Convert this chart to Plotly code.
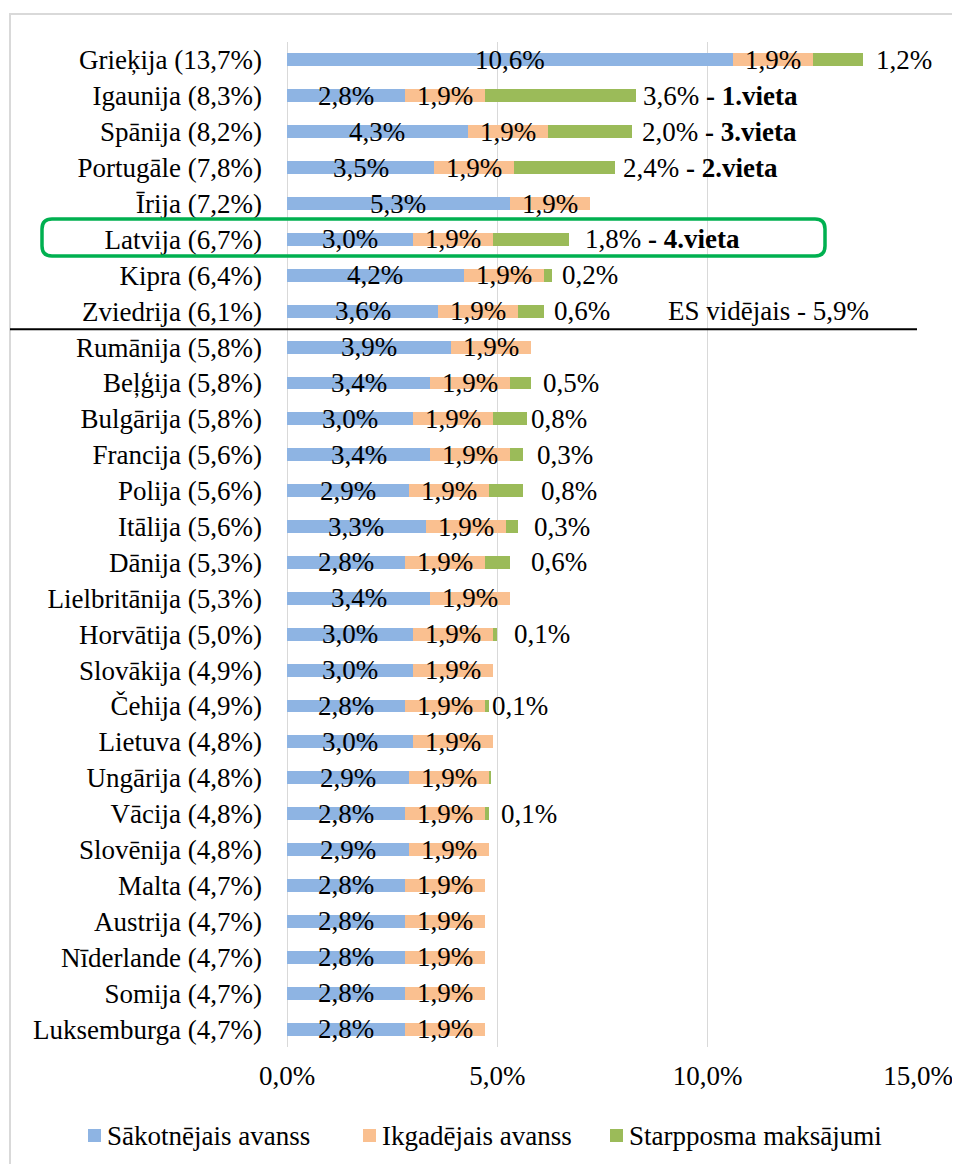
import plotly.graph_objects as go

categories = [
    "Grieķija (13,7%)", "Igaunija (8,3%)", "Spānija (8,2%)", "Portugāle (7,8%)",
    "Īrija (7,2%)", "Latvija (6,7%)", "Kipra (6,4%)", "Zviedrija (6,1%)",
    "Rumānija (5,8%)", "Beļģija (5,8%)", "Bulgārija (5,8%)", "Francija (5,6%)",
    "Polija (5,6%)", "Itālija (5,6%)", "Dānija (5,3%)", "Lielbritānija (5,3%)",
    "Horvātija (5,0%)", "Slovākija (4,9%)", "Čehija (4,9%)", "Lietuva (4,8%)",
    "Ungārija (4,8%)", "Vācija (4,8%)", "Slovēnija (4,8%)", "Malta (4,7%)",
    "Austrija (4,7%)", "Nīderlande (4,7%)", "Somija (4,7%)", "Luksemburga (4,7%)",
]
initial_advance = [10.6, 2.8, 4.3, 3.5, 5.3, 3.0, 4.2, 3.6, 3.9, 3.4, 3.0, 3.4, 2.9, 3.3,
                   2.8, 3.4, 3.0, 3.0, 2.8, 3.0, 2.9, 2.8, 2.9, 2.8, 2.8, 2.8, 2.8, 2.8]
annual_advance = [1.9] * 28
interim_payments = [1.2, 3.6, 2.0, 2.4, 0.0, 1.8, 0.2, 0.6, 0.0, 0.5, 0.8, 0.3, 0.8, 0.3,
                    0.6, 0.0, 0.1, 0.0, 0.1, 0.0, 0.05, 0.1, 0.0, 0.0, 0.0, 0.0, 0.0, 0.0]
interim_labels = ["1,2%", "3,6%<b> - 1.vieta</b>", "2,0%<b> - 3.vieta</b>", "2,4%<b> - 2.vieta</b>",
                  "", "1,8%<b> - 4.vieta</b>", "0,2%", "0,6%", "", "0,5%", "0,8%", "0,3%",
                  "0,8%", "0,3%", "0,6%", "", "0,1%", "", "0,1%", "", "", "0,1%",
                  "", "", "", "", "", ""]
series_names = ["Sākotnējais avanss", "Ikgadējais avanss", "Starpposma maksājumi"]
x_ticks = [0, 5, 10, 15]
x_tick_labels = ["0,0%", "5,0%", "10,0%", "15,0%"]
eu_average_text = "ES vidējais - 5,9%"

# styles
colors = ["#8EB4E3", "#FAC090", "#9BBB59"]
label_shift = [11, 5, 8, 6, 0, 14, 8, 8, 0, 10, 2, 12, 16, 14, 19, 0, 15, 0, 1, 0, 0, 10,
               0, 0, 0, 0, 0, 0]
legend_square_px = [88, 363, 610]
FONT = "Liberation Serif"
FS = 27
OFF = 8  # browser body margin: page pixel = figure pixel + OFF
W, H = 960, 1164
# plot area in page pixels: x 287..918, y 42..1047
ML, MR, MT, MB = 287 - OFF, W - 918 + OFF, 42 - OFF, H - 1047 + OFF
PW, PH = W - ML - MR, H - MT - MB


def px(xp):  # page pixel -> paper
    return (xp - OFF - ML) / PW


def py(yp):
    return 1 - (yp - OFF - MT) / PH


def pct(v):
    return f"{v:.1f}%".replace(".", ",")


fig = go.Figure()
for name, vals, col in zip(series_names, [initial_advance, annual_advance, interim_payments], colors):
    fig.add_trace(go.Bar(y=categories, x=vals, name=name, orientation="h", showlegend=False,
                         marker=dict(color=col, line=dict(width=0)), hoverinfo="skip"))

tfont = dict(family=FONT, size=FS, color="#000")
annotations = []
for i, cat in enumerate(categories):
    b, o, g = initial_advance[i], annual_advance[i], interim_payments[i]
    annotations.append(dict(x=b / 2, y=cat, xref="x", yref="y", text=pct(b),
                            showarrow=False, font=tfont))
    annotations.append(dict(x=b + o / 2, y=cat, xref="x", yref="y", text=pct(o),
                            showarrow=False, font=tfont))
    if interim_labels[i]:
        annotations.append(dict(x=b + o + g, y=cat, xref="x", yref="y", text=interim_labels[i],
                                xanchor="left", xshift=label_shift[i], showarrow=False, font=tfont))
annotations.append(dict(x=9, y=categories[7], xref="x", yref="y", text=eu_average_text,
                        xanchor="left", showarrow=False, font=tfont))

shapes = [
    # outer frame
    dict(type="rect", xref="paper", yref="paper", x0=px(10), x1=px(990), y0=py(1200), y1=py(14),
         line=dict(color="#d9d9d9", width=2), fillcolor="rgba(0,0,0,0)", layer="below"),
    # separator line
    dict(type="line", xref="paper", yref="y", x0=px(10), x1=px(917), y0=7.5, y1=7.5,
         line=dict(color="#000", width=2)),
]
# rounded green rectangle around Latvija
x0, x1, y0, y1, r = 42, 825, 219, 256, 10
path = (f"M {px(x0 + r)},{py(y0)} L {px(x1 - r)},{py(y0)} Q {px(x1)},{py(y0)} {px(x1)},{py(y0 + r)} "
        f"L {px(x1)},{py(y1 - r)} Q {px(x1)},{py(y1)} {px(x1 - r)},{py(y1)} "
        f"L {px(x0 + r)},{py(y1)} Q {px(x0)},{py(y1)} {px(x0)},{py(y1 - r)} "
        f"L {px(x0)},{py(y0 + r)} Q {px(x0)},{py(y0)} {px(x0 + r)},{py(y0)} Z")
shapes.append(dict(type="path", xref="paper", yref="paper", path=path,
                   line=dict(color="#00B050", width=3.5)))

# manual legend
for name, col, sx in zip(series_names, colors, legend_square_px):
    shapes.append(dict(type="rect", xref="paper", yref="paper", x0=px(sx), x1=px(sx + 13),
                       y0=py(1142), y1=py(1129), fillcolor=col, line=dict(width=0)))
    annotations.append(dict(x=px(sx + 17), y=py(1135.5), xref="paper", yref="paper", text=name,
                            xanchor="left", yanchor="middle", showarrow=False, font=tfont))

fig.update_layout(
    width=W, height=H, margin=dict(l=ML, r=MR, t=MT, b=MB, autoexpand=False),
    barmode="stack", bargap=0.64,
    plot_bgcolor="white", paper_bgcolor="white",
    showlegend=False,
    font=tfont,
    xaxis=dict(range=[0, 15], tickvals=x_ticks, ticktext=x_tick_labels,
               showgrid=True, gridcolor="#d9d9d9", gridwidth=1, zeroline=True,
               zerolinecolor="#d9d9d9", zerolinewidth=1, showline=False, ticks="",
               ticklabelstandoff=10, tickfont=tfont, automargin=False, fixedrange=True),
    yaxis=dict(autorange="reversed", showgrid=False, ticks="", showline=False, automargin=False,
               ticklabelstandoff=24, tickfont=tfont),
    annotations=annotations, shapes=shapes,
)

fig.write_html("out.html")
